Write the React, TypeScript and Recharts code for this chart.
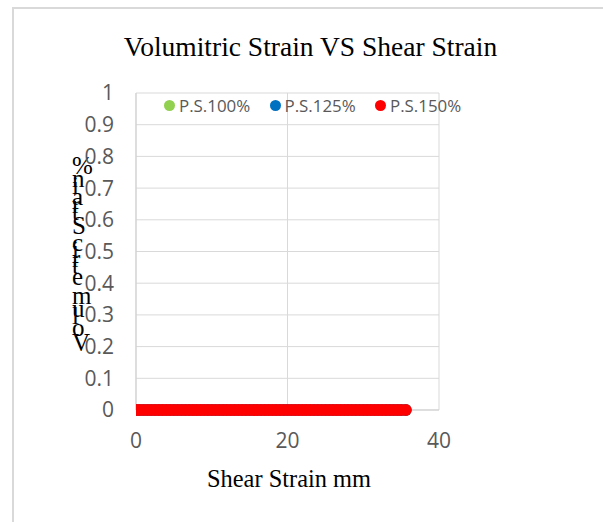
import React from 'react';
import { ScatterChart, Scatter, XAxis, YAxis, CartesianGrid, Label } from 'recharts';

// Shear strain (mm) readings for each series
const shearStrain100 = [
  0, 0.5, 1, 1.5, 2, 2.5, 3, 3.5, 4, 4.5, 5, 5.5, 6, 6.5, 7, 7.5, 8, 8.5, 9, 9.5,
  10, 10.5, 11, 11.5, 12, 12.5, 13, 13.5, 14, 14.5, 15, 15.5, 16, 16.5, 17, 17.5,
  18, 18.5, 19, 19.5, 20, 20.5, 21, 21.5, 22, 22.5, 23, 23.5, 24, 24.5, 25, 25.5,
  26, 26.5, 27, 27.5, 28, 28.5, 29, 29.5, 30, 30.5, 31, 31.5, 32, 32.5, 33, 33.5,
  34, 34.5, 35, 35.6,
];
const shearStrain125 = [
  0, 0.5, 1, 1.5, 2, 2.5, 3, 3.5, 4, 4.5, 5, 5.5, 6, 6.5, 7, 7.5, 8, 8.5, 9, 9.5,
  10, 10.5, 11, 11.5, 12, 12.5, 13, 13.5, 14, 14.5, 15, 15.5, 16, 16.5, 17, 17.5,
  18, 18.5, 19, 19.5, 20, 20.5, 21, 21.5, 22, 22.5, 23, 23.5, 24, 24.5, 25, 25.5,
  26, 26.5, 27, 27.5, 28, 28.5, 29, 29.5, 30, 30.5, 31, 31.5, 32, 32.5, 33, 33.5,
  34, 34.5, 35, 35.6,
];
const shearStrain150 = [
  0, 0.5, 1, 1.5, 2, 2.5, 3, 3.5, 4, 4.5, 5, 5.5, 6, 6.5, 7, 7.5, 8, 8.5, 9, 9.5,
  10, 10.5, 11, 11.5, 12, 12.5, 13, 13.5, 14, 14.5, 15, 15.5, 16, 16.5, 17, 17.5,
  18, 18.5, 19, 19.5, 20, 20.5, 21, 21.5, 22, 22.5, 23, 23.5, 24, 24.5, 25, 25.5,
  26, 26.5, 27, 27.5, 28, 28.5, 29, 29.5, 30, 30.5, 31, 31.5, 32, 32.5, 33, 33.5,
  34, 34.5, 35, 35.6,
];

// Volumetric strain (%) readings for each series
const volStrain100 = [
  0, 0, 0, 0, 0, 0, 0, 0, 0, 0, 0, 0, 0, 0, 0, 0, 0, 0, 0, 0,
  0, 0, 0, 0, 0, 0, 0, 0, 0, 0, 0, 0, 0, 0, 0, 0, 0, 0, 0, 0,
  0, 0, 0, 0, 0, 0, 0, 0, 0, 0, 0, 0, 0, 0, 0, 0, 0, 0, 0, 0,
  0, 0, 0, 0, 0, 0, 0, 0, 0, 0, 0, 0,
];
const volStrain125 = [
  0, 0, 0, 0, 0, 0, 0, 0, 0, 0, 0, 0, 0, 0, 0, 0, 0, 0, 0, 0,
  0, 0, 0, 0, 0, 0, 0, 0, 0, 0, 0, 0, 0, 0, 0, 0, 0, 0, 0, 0,
  0, 0, 0, 0, 0, 0, 0, 0, 0, 0, 0, 0, 0, 0, 0, 0, 0, 0, 0, 0,
  0, 0, 0, 0, 0, 0, 0, 0, 0, 0, 0, 0,
];
const volStrain150 = [
  0, 0, 0, 0, 0, 0, 0, 0, 0, 0, 0, 0, 0, 0, 0, 0, 0, 0, 0, 0,
  0, 0, 0, 0, 0, 0, 0, 0, 0, 0, 0, 0, 0, 0, 0, 0, 0, 0, 0, 0,
  0, 0, 0, 0, 0, 0, 0, 0, 0, 0, 0, 0, 0, 0, 0, 0, 0, 0, 0, 0,
  0, 0, 0, 0, 0, 0, 0, 0, 0, 0, 0, 0,
];

const xTicks = [0, 20, 40];
const yTicks = [0, 0.1, 0.2, 0.3, 0.4, 0.5, 0.6, 0.7, 0.8, 0.9, 1];

const seriesNames = ['P.S.100%', 'P.S.125%', 'P.S.150%'];
const seriesColors = ['#92D050', '#0070C0', '#FF0000'];

const chartTitle = 'Volumitric Strain VS Shear Strain';
const xTitle = 'Shear Strain mm';
const yTitle = 'Volumetric Strain%';

const toPoints = (xs: number[], ys: number[]) => xs.map((x, i) => ({ x, y: ys[i] }));

const series = [
  toPoints(shearStrain100, volStrain100),
  toPoints(shearStrain125, volStrain125),
  toPoints(shearStrain150, volStrain150),
];

const SERIF = "'Liberation Serif', 'Times New Roman', serif";
const SANS = "'Open Sans', 'Noto Sans', sans-serif";
const GRID = '#d9d9d9';

const makeDot = (color: string) => (p: any) =>
  <circle cx={p.cx} cy={p.cy} r={6} fill={color} />;

const YTitle = () => (
  <text
    x={72}
    y={351}
    transform="rotate(-90 72 351)"
    rotate="90"
    fontFamily={SERIF}
    fontSize={25}
    fill="#000"
  >
    {yTitle}
  </text>
);

const XTitle = () => (
  <text x={289} y={487} textAnchor="middle" fontFamily={SERIF} fontSize={24.4} fill="#000">
    {xTitle}
  </text>
);

export default function App() {
  return (
    <div style={{ position: 'absolute', left: 0, top: 0, width: 603, height: 522, background: '#fff', overflow: 'hidden' }}>
      <div
        style={{
          position: 'absolute',
          left: 12,
          top: 7,
          width: 591,
          height: 515,
          borderTop: `2px solid ${GRID}`,
          borderLeft: `2px solid ${GRID}`,
          boxSizing: 'border-box',
        }}
      />
      <div
        style={{
          position: 'absolute',
          left: 110,
          top: 33,
          width: 401,
          textAlign: 'center',
          fontFamily: SERIF,
          fontSize: 27.5,
          lineHeight: '27.5px',
          color: '#000',
          whiteSpace: 'nowrap',
        }}
      >
        {chartTitle}
      </div>
      <div style={{ position: 'absolute', left: 0, top: 0 }}>
        <ScatterChart width={603} height={522} margin={{ top: 93, right: 164, bottom: 82, left: 76 }}>
          <CartesianGrid stroke={GRID} strokeWidth={1} />
          <XAxis
            type="number"
            dataKey="x"
            domain={[0, 40]}
            ticks={xTicks}
            height={30}
            tickLine={false}
            tickMargin={17}
            axisLine={{ stroke: '#cfcfcf' }}
            tick={{ fill: '#595959', fontSize: 21, fontFamily: SANS }}
            allowDataOverflow
          >
            <Label content={() => <XTitle />} />
          </XAxis>
          <YAxis
            type="number"
            dataKey="y"
            domain={[0, 1]}
            ticks={yTicks}
            width={60}
            tickLine={false}
            tickMargin={16}
            axisLine={{ stroke: '#cfcfcf' }}
            tick={{ fill: '#595959', fontSize: 21, fontFamily: SANS }}
            tickFormatter={(v: number) => String(v)}
            interval={0}
          >
            <Label content={() => <YTitle />} />
          </YAxis>
          {series.map((pts, i) => (
            <Scatter
              key={seriesNames[i]}
              name={seriesNames[i]}
              data={pts}
              fill={seriesColors[i]}
              shape={makeDot(seriesColors[i])}
              isAnimationActive={false}
            />
          ))}
        </ScatterChart>
      </div>
      {seriesNames.map((name, i) => (
        <div
          key={name}
          style={{
            position: 'absolute',
            left: 164 + 105.5 * i,
            top: 95.5,
            height: 20,
            display: 'flex',
            alignItems: 'center',
            fontFamily: SANS,
            fontSize: 16.9,
            color: '#595959',
            whiteSpace: 'nowrap',
          }}
        >
          <span
            style={{
              display: 'inline-block',
              width: 11,
              height: 11,
              borderRadius: '50%',
              background: seriesColors[i],
              marginRight: 4,
            }}
          />
          <span style={{ lineHeight: '20px' }}>{name}</span>
        </div>
      ))}
    </div>
  );
}
